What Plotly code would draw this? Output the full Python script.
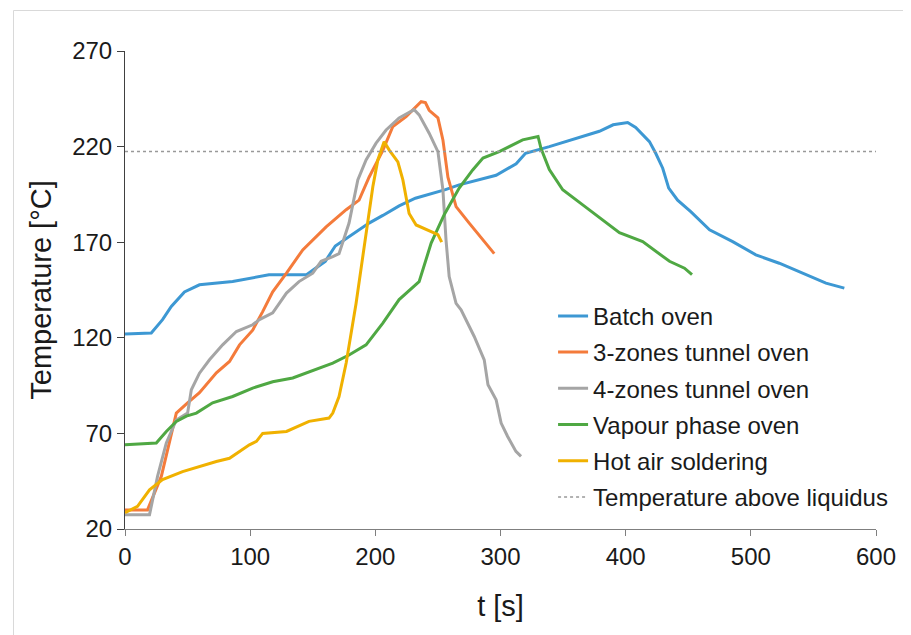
import plotly.graph_objects as go

# ---- data ----
batch_t = [0, 21, 30, 37, 47.5, 59.5, 86, 115, 145, 160, 168, 179, 195, 206, 219, 232, 256, 267, 296.5, 312.5, 320, 339, 379, 390, 401.6, 408, 419, 424, 429.6, 434.4, 441.5, 452, 467, 485.5, 504, 522.7, 541, 560, 574.7]
batch_T = [122, 122.5, 129.5, 136.4, 144, 147.7, 149.4, 153, 153, 160, 168, 173, 180, 184, 189, 193, 197.5, 200, 205, 211, 216.5, 220, 228, 231.4, 232.6, 230, 222.6, 216.5, 208.7, 198.3, 192, 186, 176.5, 170.3, 163.4, 159, 153.8, 148.6, 146]

zone3_t = [0, 18, 29, 41, 50, 59.5, 73, 83.5, 91.5, 102, 110, 118, 129, 142, 160.7, 176.7, 187, 195, 206, 214, 224.6, 232.6, 236.6, 240, 243, 250, 254, 258, 264.5, 275, 286, 295]
zone3_T = [30, 30, 47.5, 80.6, 86, 91.3, 101.7, 107.6, 116.3, 124, 133.7, 144, 153.8, 166, 178, 187, 192, 204, 218, 230.5, 235.7, 241, 243.5, 243, 239, 235, 223.5, 204, 188.6, 180, 171, 164]

zone4_t = [0, 19.6, 26, 33, 41, 50, 53, 59.5, 67.5, 78, 89, 102, 107.4, 118, 129, 139, 150, 156.7, 166, 171, 179, 186, 192.6, 200.6, 208.6, 219, 231, 235, 243, 250, 254, 256.5, 259, 264.5, 268.5, 279, 287, 290, 296.5, 300.5, 305.7, 312.3, 316.4]
zone4_T = [27.5, 27.5, 47.5, 65, 77, 80.6, 92.8, 101.5, 108.5, 116.3, 123.3, 126.8, 129.5, 133, 143.4, 149.4, 153.8, 160, 162.5, 164, 180, 202.6, 213, 221.8, 228.7, 235, 239.3, 236.6, 227, 217.4, 197.4, 171, 152, 138, 134.6, 120.7, 108.5, 95.4, 87.6, 75.4, 68.4, 60.6, 58]

vapour_t = [0, 25, 33, 41, 49, 57, 70, 86, 102, 118, 134, 150, 166, 179, 192.6, 206, 219, 235, 244.6, 255, 267, 277.8, 286, 299, 317.7, 330, 332.4, 339, 349.7, 365.7, 379, 395, 413.6, 435, 447, 453]
vapour_T = [64, 65, 71, 76.2, 79, 80.6, 86, 89.3, 93.7, 97, 99, 103, 106.8, 111, 116.3, 127.7, 140, 149.4, 169.5, 184.4, 198.3, 207.8, 214, 217.4, 223.5, 225.3, 219, 208, 197.4, 189.5, 183, 175, 170.3, 160, 156.4, 153]

hotair_t = [0, 10, 19.6, 30, 46, 59.5, 73, 83.5, 91.5, 99.4, 105, 110, 129, 147, 163, 166, 171, 176.7, 184.6, 191, 198, 202, 207, 211, 218, 222, 227, 232.6, 242, 250, 253]
hotair_T = [28.5, 31.8, 40.5, 45.8, 50, 52.7, 55.3, 57, 60.5, 64, 65.8, 70, 71, 76.3, 78, 80.6, 89.3, 106.8, 138, 166, 199, 213, 222.6, 218.3, 212, 202.6, 185, 179, 176.5, 174, 170]

liquidus_t = [0, 600]
liquidus_T = [217.4, 217.4]

series = [
    ("Batch oven", batch_t, batch_T, "#3D98D3"),
    ("3-zones tunnel oven", zone3_t, zone3_T, "#F47B3B"),
    ("4-zones tunnel oven", zone4_t, zone4_T, "#A5A5A5"),
    ("Vapour phase oven", vapour_t, vapour_T, "#4FA843"),
    ("Hot air soldering", hotair_t, hotair_T, "#F0B100"),
]

FONT = "Liberation Sans, Arial, sans-serif"
FS = 24

fig = go.Figure()
for i, (name, t, T, c) in enumerate(series):
    fig.add_trace(go.Scatter(x=t, y=T, mode="lines", name=name,
                             line=dict(color=c, width=3), legendgroup=str(i)))
fig.add_trace(go.Scatter(x=liquidus_t, y=liquidus_T, mode="lines",
                         name="Temperature above liquidus",
                         line=dict(color="#999999", width=1.5, dash="dot"), legendgroup="9"))

# page body adds an 8px offset; margins compensate so the plot area sits at 125..876 x 51..529
fig.update_layout(
    width=911, height=635,
    margin=dict(l=117, r=43, t=43, b=114),
    paper_bgcolor="white", plot_bgcolor="white",
    font=dict(family=FONT, size=FS, color="#1a1a1a"),
    showlegend=True,
    legend=dict(x=0.57, y=0.492, xanchor="left", yanchor="top",
                bgcolor="rgba(0,0,0,0)", font=dict(size=FS, color="#1a1a1a"),
                traceorder="grouped", tracegroupgap=2, itemwidth=30),
    xaxis=dict(range=[0, 600], dtick=100, tick0=0, showgrid=False, zeroline=False,
               showline=True, linecolor="#7f7f7f", linewidth=1,
               ticks="outside", ticklen=6, tickcolor="#7f7f7f",
               title=dict(text="t [s]", standoff=26), tickfont=dict(size=FS)),
    yaxis=dict(range=[20, 270], dtick=50, tick0=20, showgrid=False, zeroline=False,
               showline=True, linecolor="#404040", linewidth=1,
               ticks="outside", ticklen=7, tickcolor="#404040",
               title=dict(text="Temperature [°C]", standoff=12), tickfont=dict(size=FS)),
    shapes=[dict(type="rect", xref="paper", yref="paper",
                 x0=(13.5 - 125) / 751, x1=(930 - 125) / 751,
                 y0=(529 - 660) / 478, y1=(529 - 10.5) / 478,
                 line=dict(color="#D9D9D9", width=1), fillcolor="rgba(0,0,0,0)", layer="below")],
)

fig.write_html("out.html")
